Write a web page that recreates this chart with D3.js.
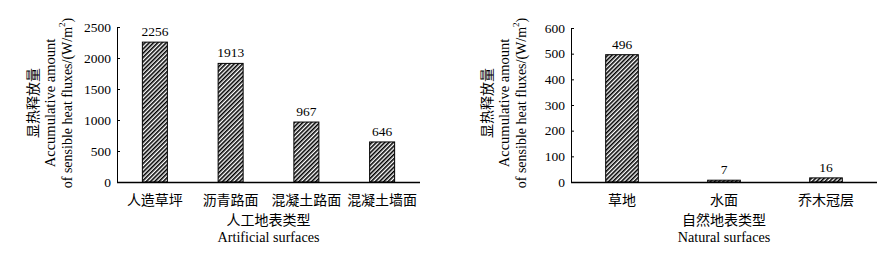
<!DOCTYPE html>
<html>
<head>
<meta charset="utf-8">
<script src="https://cdn.jsdelivr.net/npm/d3@7"></script>
<style>
  body { margin: 0; background: #fff; }
  svg { display: block; }
  text { font-family: "Liberation Serif", "Noto Sans CJK SC", serif; fill: #000; }
</style>
</head>
<body>
<svg id="chart" width="887" height="258"></svg>
<script>
// data
const artificialCats = ["人造草坪", "沥青路面", "混凝土路面", "混凝土墙面"];
const artificialVals = [2256, 1913, 967, 646];
const artificialTicks = [0, 500, 1000, 1500, 2000, 2500];

const naturalCats = ["草地", "水面", "乔木冠层"];
const naturalVals = [496, 7, 16];
const naturalTicks = [0, 100, 200, 300, 400, 500, 600];

const svg = d3.select("#chart");

// hatch pattern
svg.append("defs").append("pattern")
  .attr("id", "hatch")
  .attr("patternUnits", "userSpaceOnUse")
  .attr("width", 3)
  .attr("height", 3)
  .attr("patternTransform", "rotate(45)")
  .call(p => {
    p.append("rect").attr("width", 3).attr("height", 3).attr("fill", "#fff");
    p.append("line")
      .attr("x1", 0.8).attr("y1", 0).attr("x2", 0.8).attr("y2", 3)
      .attr("stroke", "#000").attr("stroke-width", 1.6);
  });

function drawPanel(opt) {
  const g = svg.append("g");
  const x = d3.scaleBand().domain(opt.cats).range([opt.x0, opt.x1]).paddingInner(opt.pad).paddingOuter(opt.pad / 2);
  const y = d3.scaleLinear().domain([0, opt.max]).range([182, opt.top]);

  // y axis (ticks inward)
  const yAxis = g.append("g")
    .attr("transform", `translate(${opt.x0},0)`)
    .call(d3.axisLeft(y).tickValues(opt.ticks).tickFormat(d3.format("d"))
      .tickSizeInner(-3).tickSizeOuter(0));
  yAxis.select(".domain").attr("stroke", "#000");
  yAxis.selectAll(".tick line").attr("stroke", "#000");
  yAxis.selectAll(".tick text")
    .attr("x", -6)
    .style("font-size", "13.5px")
    .style("font-family", "Liberation Serif");

  // bars
  g.selectAll(".bar")
    .data(opt.vals)
    .enter().append("rect")
    .attr("x", (d, i) => x(opt.cats[i]))
    .attr("y", d => y(d))
    .attr("width", x.bandwidth())
    .attr("height", d => y(0) - y(d))
    .attr("fill", "url(#hatch)")
    .attr("stroke", "#000")
    .attr("stroke-width", 1);

  // value labels
  g.selectAll(".val")
    .data(opt.vals)
    .enter().append("text")
    .attr("x", (d, i) => x(opt.cats[i]) + x.bandwidth() / 2)
    .attr("y", d => y(d) - 6)
    .attr("text-anchor", "middle")
    .style("font-size", "13.5px")
    .text(d => d);

  // x axis line
  g.append("line")
    .attr("x1", opt.x0).attr("x2", opt.x1)
    .attr("y1", 182.5).attr("y2", 182.5)
    .attr("stroke", "#000").attr("stroke-width", 1.3);

  // category labels
  g.selectAll(".cat")
    .data(opt.cats)
    .enter().append("text")
    .attr("x", d => x(d) + x.bandwidth() / 2)
    .attr("y", 205)
    .attr("text-anchor", "middle")
    .style("font-size", "14px")
    .text(d => d);

  const cx = (opt.x0 + opt.x1) / 2;
  g.append("text").attr("x", cx).attr("y", 225).attr("text-anchor", "middle")
    .style("font-size", "14px").text(opt.titleZh);
  g.append("text").attr("x", cx).attr("y", 242).attr("text-anchor", "middle")
    .style("font-size", "14.2px").text(opt.titleEn);

  // y labels (rotated)
  const cy = 103;
  const lines = [
    { dx: -84, size: 14, txt: "显热释放量" },
    { dx: -67, size: 14.5, txt: "Accumulative amount" },
    { dx: -50, size: 14, txt: null }
  ];
  lines.forEach(l => {
    const t = g.append("text")
      .attr("transform", `translate(${opt.x0 + l.dx},${cy}) rotate(-90)`)
      .attr("text-anchor", "middle")
      .attr("dominant-baseline", "central")
      .style("font-size", l.size + "px");
    if (l.txt) {
      t.text(l.txt);
    } else {
      t.append("tspan").text("of sensible heat fluxes/(W/m");
      t.append("tspan").attr("dy", -5).style("font-size", "9px").text("2");
      t.append("tspan").attr("dy", 5).text(")");
    }
  });
}

drawPanel({
  cats: artificialCats, vals: artificialVals, ticks: artificialTicks, max: 2500,
  x0: 117, x1: 420, top: 27, pad: 0.67,
  titleZh: "人工地表类型", titleEn: "Artificial surfaces"
});

drawPanel({
  cats: naturalCats, vals: naturalVals, ticks: naturalTicks, max: 600,
  x0: 571, x1: 877, top: 28, pad: 0.68,
  titleZh: "自然地表类型", titleEn: "Natural surfaces"
});
</script>
</body>
</html>
